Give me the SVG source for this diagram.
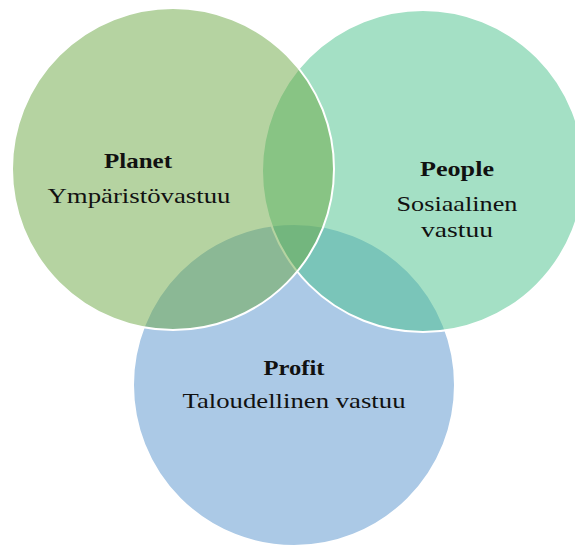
<svg xmlns="http://www.w3.org/2000/svg" width="575" height="545" viewBox="0 0 575 545">
  <style>
    .ring { stroke: #ffffff; stroke-width: 2; fill-opacity: 0.5; }
    .title { font-family: "Liberation Serif", "Times New Roman", serif; font-size: 22px; font-weight: bold; fill: #111111; text-anchor: middle; }
    .sub { font-family: "Liberation Serif", "Times New Roman", serif; font-size: 22px; fill: #111111; text-anchor: middle; }
  </style>
  <rect width="575" height="545" fill="#ffffff"/>

  <!-- Profit (drawn first, lowest) -->
  <g id="profit">
    <circle class="ring" cx="294" cy="385" r="161" fill="#5793cd"/>
    <text class="title" x="294" y="375" textLength="61" lengthAdjust="spacingAndGlyphs">Profit</text>
    <text class="sub" x="294" y="408" textLength="223" lengthAdjust="spacingAndGlyphs">Taloudellinen vastuu</text>
  </g>

  <!-- People -->
  <g id="people">
    <circle class="ring" cx="423" cy="171" r="161" fill="#49c18b"/>
    <text class="title" x="457" y="176" textLength="74" lengthAdjust="spacingAndGlyphs">People</text>
    <text class="sub" x="457" y="211" textLength="121" lengthAdjust="spacingAndGlyphs">Sosiaalinen</text>
    <text class="sub" x="457" y="237" textLength="72" lengthAdjust="spacingAndGlyphs">vastuu</text>
  </g>

  <!-- Planet (top) -->
  <g id="planet">
    <circle class="ring" cx="173" cy="169" r="161" fill="#6ba743"/>
    <text class="title" x="138" y="168" textLength="68" lengthAdjust="spacingAndGlyphs">Planet</text>
    <text class="sub" x="139" y="203" textLength="183" lengthAdjust="spacingAndGlyphs">Ympäristövastuu</text>
  </g>
</svg>
